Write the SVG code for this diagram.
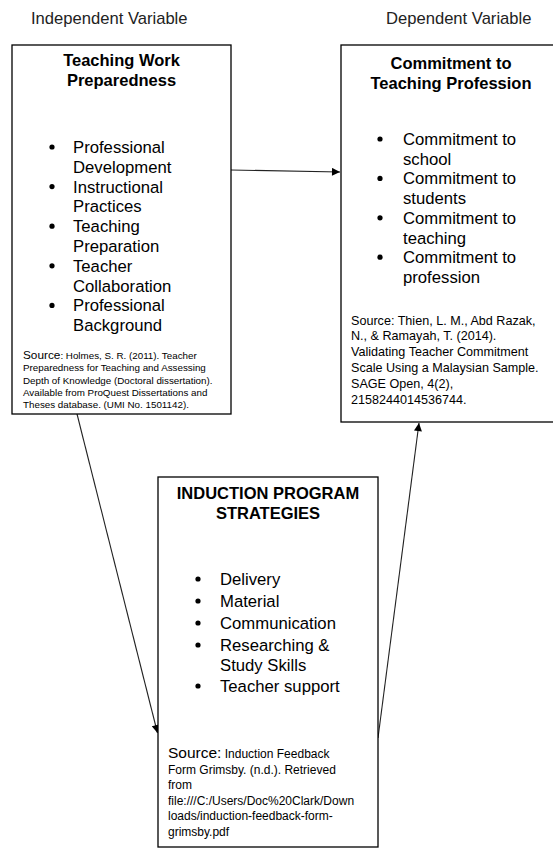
<svg xmlns="http://www.w3.org/2000/svg" width="553" height="852" viewBox="0 0 553 852">
<defs>
<marker id="arr" viewBox="0 0 10 10" refX="10" refY="5" markerWidth="9" markerHeight="8" markerUnits="userSpaceOnUse" orient="auto">
<path d="M0,0 L10,5 L0,10 z" fill="#000"/>
</marker>
<style>
text{font-family:"Liberation Sans",Arial,sans-serif;fill:#000}
.hdr{font-size:16.6px;fill:#222}
.ttl{font-size:16.5px;font-weight:bold;text-anchor:middle}
.bul{font-size:16.7px}
.box{fill:#fff;stroke:#000;stroke-width:1.3}
.src1{font-size:9.8px}
.src2{font-size:12.6px}
.src3{font-size:12px}
.big{font-size:11.8px}
.big3{font-size:15.5px}
.con{stroke:#222;stroke-width:1.1;fill:none}
</style>
</defs>
<rect width="553" height="852" fill="#fff"/>
<text class="hdr" x="31" y="24">Independent Variable</text>
<text class="hdr" x="386" y="24">Dependent Variable</text>

<g id="connectors">
<line class="con" x1="231" y1="170" x2="340" y2="172" marker-end="url(#arr)"/>
<line class="con" x1="77" y1="414" x2="157.5" y2="733" marker-end="url(#arr)"/>
<line class="con" x1="378" y1="738" x2="419" y2="423" marker-end="url(#arr)"/>
</g>

<g id="node-teaching-work">
<rect class="box" x="12" y="45" width="219" height="369"/>
<text class="ttl" x="121.5" y="66">Teaching Work</text>
<text class="ttl" x="121.5" y="86">Preparedness</text>
<g fill="#000">
<circle cx="52" cy="147" r="2.6"/>
<circle cx="52" cy="186.6" r="2.6"/>
<circle cx="52" cy="226.2" r="2.6"/>
<circle cx="52" cy="265.8" r="2.6"/>
<circle cx="52" cy="305.4" r="2.6"/>
</g>
<text class="bul" x="73" y="153">Professional</text>
<text class="bul" x="73" y="172.8">Development</text>
<text class="bul" x="73" y="192.6">Instructional</text>
<text class="bul" x="73" y="212.4">Practices</text>
<text class="bul" x="73" y="232.2">Teaching</text>
<text class="bul" x="73" y="252">Preparation</text>
<text class="bul" x="73" y="271.8">Teacher</text>
<text class="bul" x="73" y="291.6">Collaboration</text>
<text class="bul" x="73" y="311.4">Professional</text>
<text class="bul" x="73" y="331.2">Background</text>
<text class="src1" x="23" y="359"><tspan class="big">Source</tspan>: Holmes, S. R. (2011). Teacher</text>
<text class="src1" x="23" y="371.3">Preparedness for Teaching and Assessing</text>
<text class="src1" x="23" y="383.6">Depth of Knowledge (Doctoral dissertation).</text>
<text class="src1" x="23" y="395.9">Available from ProQuest Dissertations and</text>
<text class="src1" x="23" y="408.2">Theses database. (UMI No. 1501142).</text>
</g>

<g id="node-commitment">
<rect class="box" x="341" y="45" width="225" height="377"/>
<text class="ttl" x="451" y="69">Commitment to</text>
<text class="ttl" x="451" y="89">Teaching Profession</text>
<g fill="#000">
<circle cx="380" cy="139" r="2.6"/>
<circle cx="380" cy="178.4" r="2.6"/>
<circle cx="380" cy="217.8" r="2.6"/>
<circle cx="380" cy="257.2" r="2.6"/>
</g>
<text class="bul" x="403" y="145">Commitment to</text>
<text class="bul" x="403" y="164.7">school</text>
<text class="bul" x="403" y="184.4">Commitment to</text>
<text class="bul" x="403" y="204.1">students</text>
<text class="bul" x="403" y="223.8">Commitment to</text>
<text class="bul" x="403" y="243.5">teaching</text>
<text class="bul" x="403" y="263.2">Commitment to</text>
<text class="bul" x="403" y="282.9">profession</text>
<text class="src2" x="351" y="324.5">Source: Thien, L. M., Abd Razak,</text>
<text class="src2" x="351" y="340.3">N., &amp; Ramayah, T. (2014).</text>
<text class="src2" x="351" y="356.1">Validating Teacher Commitment</text>
<text class="src2" x="351" y="371.9">Scale Using a Malaysian Sample.</text>
<text class="src2" x="351" y="387.7">SAGE Open, 4(2),</text>
<text class="src2" x="351" y="403.5">2158244014536744.</text>
</g>

<g id="node-induction">
<rect class="box" x="158" y="477" width="220" height="370"/>
<text class="ttl" x="268" y="499">INDUCTION PROGRAM</text>
<text class="ttl" x="268" y="519">STRATEGIES</text>
<g fill="#000">
<circle cx="198" cy="579" r="2.6"/>
<circle cx="198" cy="601" r="2.6"/>
<circle cx="198" cy="623" r="2.6"/>
<circle cx="198" cy="645" r="2.6"/>
<circle cx="198" cy="686" r="2.6"/>
</g>
<text class="bul" x="220" y="585">Delivery</text>
<text class="bul" x="220" y="607">Material</text>
<text class="bul" x="220" y="629">Communication</text>
<text class="bul" x="220" y="651">Researching &amp;</text>
<text class="bul" x="220" y="671">Study Skills</text>
<text class="bul" x="220" y="692">Teacher support</text>
<text class="src3" x="168" y="758"><tspan class="big3">Source:</tspan> Induction Feedback</text>
<text class="src3" x="168" y="773.5">Form Grimsby. (n.d.). Retrieved</text>
<text class="src3" x="168" y="789">from</text>
<text class="src3" x="168" y="804.5">file:///C:/Users/Doc%20Clark/Down</text>
<text class="src3" x="168" y="820">loads/induction-feedback-form-</text>
<text class="src3" x="168" y="835.5">grimsby.pdf</text>
</g>
</svg>
